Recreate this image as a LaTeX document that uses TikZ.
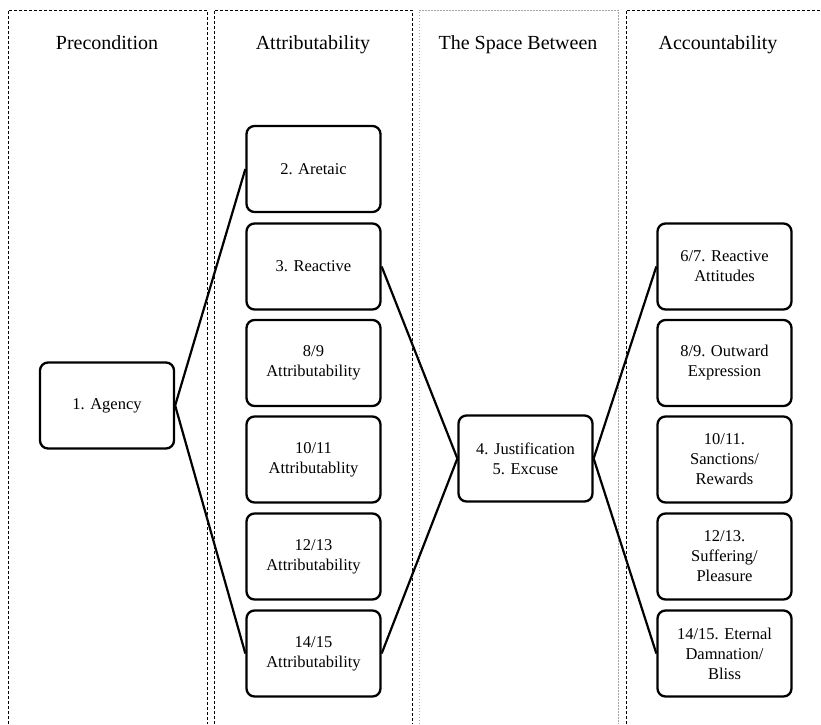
\documentclass[tikz,border=0pt]{standalone}
\usepackage{fontspec}
\setmainfont{Liberation Serif}
\begin{document}
\begin{tikzpicture}[x=1pt,y=-1pt,
  colblack/.style={draw=black,line width=1pt,dash pattern=on 3pt off 2pt},
  colgray/.style={draw=gray!70,line width=1pt,dash pattern=on 1.5pt off 1.5pt},
  coltitle/.style={font=\fontsize{20}{23}\selectfont,anchor=base},
  box/.style={draw=black,line width=2.3pt,rounded corners=8pt,minimum width=134pt,minimum height=86pt,
    align=center,inner sep=2pt,font=\fontsize{16.5}{20}\selectfont},
  link/.style={draw=black,line width=2.2pt}]
\useasboundingbox (0,0) rectangle (821,724);
% columns
\path[colblack] (8,724) -- (8,10) -- (207,10) -- (207,724);
\path[colblack] (214,724) -- (214,10) -- (412,10) -- (412,724);
\path[colgray] (419,724) -- (419,10) -- (618,10) -- (618,724);
\path[colblack] (626,724) -- (626,10) -- (821,10);
% titles
\node[coltitle] (t1) at (107,49) {Precondition};
\node[coltitle] (t2) at (313,49) {Attributability};
\node[coltitle] (t3) at (518,49) {The Space Between};
\node[coltitle] (t4) at (718,49) {Accountability};
% boxes
\node[box] (agency) at (107,405.5) {1. Agency};
\node[box] (a2) at (313.5,169) {2. Aretaic};
\node[box] (a3) at (313.5,266.5) {3. Reactive};
\node[box] (a89) at (313.5,363) {8/9\\Attributability};
\node[box] (a1011) at (313.5,459.5) {10/11\\Attributablity};
\node[box] (a1213) at (313.5,556.5) {12/13\\Attributability};
\node[box] (a1415) at (313.5,653.5) {14/15\\Attributability};
\node[box] (just) at (525.5,458.5) {4. Justification\\5. Excuse};
\node[box] (r67) at (724.5,266.5) {6/7. Reactive\\Attitudes};
\node[box] (r89) at (724.5,363) {8/9. Outward\\Expression};
\node[box] (r1011) at (724.5,459.5) {10/11.\\Sanctions/\\Rewards};
\node[box] (r1213) at (724.5,556.5) {12/13.\\Suffering/\\Pleasure};
\node[box] (r1415) at (724.5,653.5) {14/15. Eternal\\Damnation/\\Bliss};
% links
\draw[link] (agency.east) -- (a2.west);
\draw[link] (agency.east) -- (a1415.west);
\draw[link] (a3.east) -- (just.west);
\draw[link] (a1415.east) -- (just.west);
\draw[link] (just.east) -- (r67.west);
\draw[link] (just.east) -- (r1415.west);
\end{tikzpicture}
\end{document}
